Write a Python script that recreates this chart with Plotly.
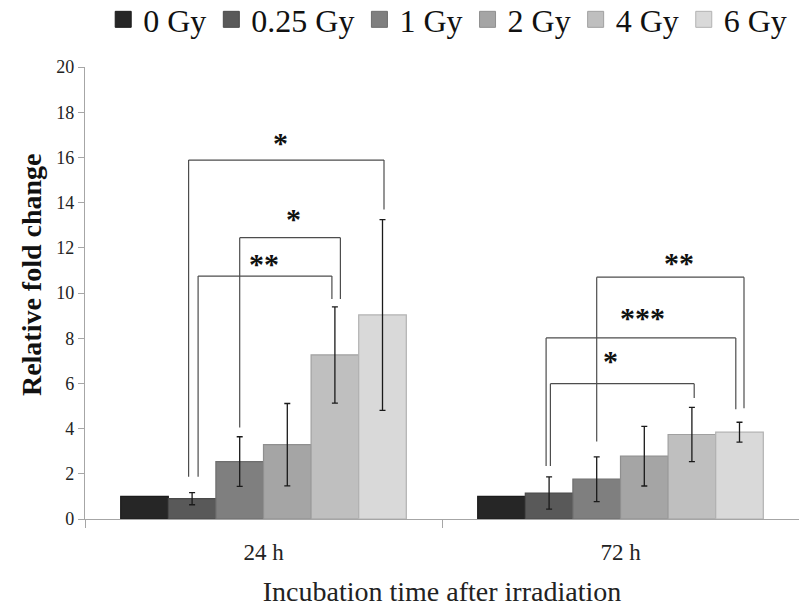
import plotly.graph_objects as go

# ---------------- data ----------------
categories = ["24 h", "72 h"]
doses = ["0 Gy", "0.25 Gy", "1 Gy", "2 Gy", "4 Gy", "6 Gy"]
fold_24h = [1.0, 0.90, 2.54, 3.29, 7.26, 9.03]
fold_72h = [1.0, 1.15, 1.76, 2.78, 3.74, 3.84]
err_24h = [0.0, 0.27, 1.10, 1.82, 2.13, 4.22]
err_72h = [0.0, 0.71, 0.99, 1.32, 1.20, 0.44]

# significance brackets
sig_cat = [0, 0, 0, 1, 1, 1]
sig_from = [1, 2, 1, 2, 1, 1]
sig_to = [5, 4, 4, 5, 5, 4]
sig_height = [15.88, 12.45, 10.75, 10.70, 8.01, 5.99]
sig_left_end = [1.87, 4.05, 1.87, 3.43, 2.35, 2.35]
sig_right_end = [13.70, 9.74, 9.74, 4.90, 4.86, 5.35]
sig_label = ["*", "*", "**", "**", "***", "*"]

# ---------------- style ----------------
FONT = "Liberation Serif"
fills = ["#262626", "#595959", "#7f7f7f", "#a5a5a5", "#bfbfbf", "#d9d9d9"]
edges = ["#1c1c1c", "#4a4a4a", "#6e6e6e", "#8f8f8f", "#a0a0a0", "#b2b2b2"]
left_dx_px = [-3.5, 0, 6, 0, -3, 1.3]
right_dx_px = [1.5, 5.5, -3, 4.5, -3.7, 2.3]
label_dx_px = [-5.5, 3, -1, 9, 1.6, -12]
label_dy_px = [3, 5, -2, 0, 5.5, 8.5]
BARGAP = 0.2
PX_PER_CAT = 357.0

fig = go.Figure()
for i, d in enumerate(doses):
    has_err = i > 0
    fig.add_trace(go.Bar(
        name=d, x=categories, y=[fold_24h[i], fold_72h[i]],
        marker=dict(color=fills[i], line=dict(color=edges[i], width=1.2)),
        error_y=dict(type="data", array=[err_24h[i], err_72h[i]], visible=has_err,
                     color="#1a1a1a", thickness=1.3, width=3),
        showlegend=False,
    ))
# legend entries with larger square swatches
for i, d in enumerate(doses):
    fig.add_trace(go.Scatter(
        name=d, x=[None], y=[None], mode="markers",
        marker=dict(symbol="square", size=16, color=fills[i],
                    line=dict(color=edges[i], width=1)),
        showlegend=True,
    ))

n = len(doses)
bw = (1 - BARGAP) / n


def bar_x(cat, i):
    return cat - (1 - BARGAP) / 2 + (i + 0.5) * bw


shapes = []
annotations = []
lc = dict(color="#4d4d4d", width=1.2)
for k in range(len(sig_label)):
    xl = bar_x(sig_cat[k], sig_from[k]) + left_dx_px[k] / PX_PER_CAT
    xr = bar_x(sig_cat[k], sig_to[k]) + right_dx_px[k] / PX_PER_CAT
    h = sig_height[k]
    shapes.append(dict(type="line", xref="x", yref="y", x0=xl, x1=xl, y0=sig_left_end[k], y1=h, line=lc))
    shapes.append(dict(type="line", xref="x", yref="y", x0=xl, x1=xr, y0=h, y1=h, line=lc))
    shapes.append(dict(type="line", xref="x", yref="y", x0=xr, x1=xr, y0=sig_right_end[k], y1=h, line=lc))
    annotations.append(dict(xref="x", yref="y", x=(xl + xr) / 2 + label_dx_px[k] / PX_PER_CAT, y=h,
                            text="<b>" + sig_label[k] + "</b>",
                            showarrow=False, yanchor="bottom", yshift=-4 + label_dy_px[k],
                            font=dict(family=FONT, size=30, color="#111")))

annotations.append(dict(xref="paper", yref="paper", x=-0.074, y=0.54, text="<b>Relative fold change</b>",
                        textangle=-90, showarrow=False, xanchor="center", yanchor="middle",
                        font=dict(family=FONT, size=28, color="#111")))

fig.update_layout(
    width=799, height=610,
    margin=dict(l=85, r=0, t=67, b=91, autoexpand=False),
    plot_bgcolor="white", paper_bgcolor="white",
    barmode="group", bargap=BARGAP, bargroupgap=0,
    font=dict(family=FONT, color="#222"),
    legend=dict(orientation="h", x=0.508, xanchor="center", y=1.105, yanchor="middle",
                font=dict(family=FONT, size=32, color="#111"), itemwidth=30,
                bgcolor="rgba(0,0,0,0)"),
    shapes=shapes, annotations=annotations,
    xaxis=dict(type="category", range=[-0.5, 1.5], showline=True, linecolor="#a6a6a6", linewidth=1.3,
               ticks="outside", tickson="boundaries", ticklen=8, tickcolor="#a6a6a6", tickwidth=1.3,
               ticklabelstandoff=12,
               tickfont=dict(family=FONT, size=23, color="#222"), showgrid=False,
               title=dict(text="Incubation time after irradiation", standoff=17,
                          font=dict(family=FONT, size=28, color="#222"))),
    yaxis=dict(range=[0, 20], dtick=2, showline=True, linecolor="#a6a6a6", linewidth=1.3,
               ticks="outside", ticklen=6, tickcolor="#a6a6a6", tickwidth=1.3, showgrid=False,
               zeroline=False, tickfont=dict(family=FONT, size=18, color="#222")),
)

fig.write_html("out.html")
